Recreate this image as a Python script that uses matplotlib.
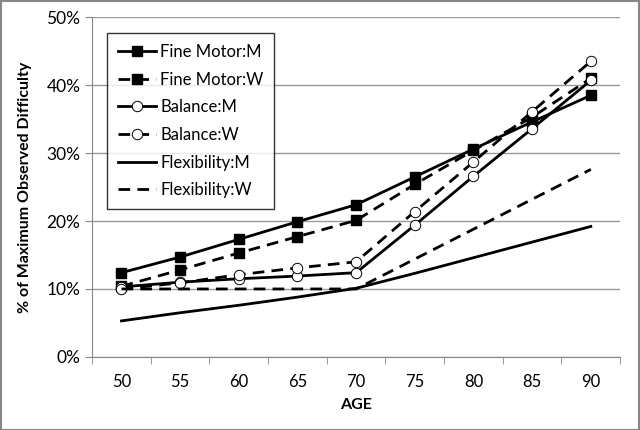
import matplotlib
matplotlib.use("Agg")
import matplotlib.pyplot as plt
from matplotlib.patches import Rectangle

plt.rcParams["font.family"] = ["Lato", "DejaVu Sans"]

ages = [50, 55, 60, 65, 70, 75, 80, 85, 90]
fine_motor_m = [12.4, 14.7, 17.3, 19.9, 22.4, 26.5, 30.6, 34.6, 38.5]
fine_motor_w = [10.4, 12.8, 15.3, 17.7, 20.1, 25.4, 30.4, 35.3, 41.0]
balance_m = [10.3, 11.0, 11.5, 11.9, 12.4, 19.4, 26.6, 33.6, 40.7]
balance_w = [10.0, 10.9, 12.1, 13.1, 14.0, 21.4, 28.7, 36.1, 43.5]
flexibility_m = [5.3, 6.5, 7.6, 8.8, 10.1, 12.3, 14.6, 16.9, 19.2]
flexibility_w = [10.0, 10.0, 10.0, 10.0, 10.0, 14.4, 18.8, 23.2, 27.6]

fig = plt.figure(figsize=(6.4, 4.3), dpi=100)
ax = fig.add_axes([0.144, 0.170, 0.825, 0.790])

lw = 2.0
dash = (0, (4.2, 2.6))
ax.plot(ages, fine_motor_m, color="black", lw=lw, marker="s", ms=7.5,
        label="Fine Motor:M")
ax.plot(ages, fine_motor_w, color="black", lw=lw, ls=dash, marker="s", ms=7.5,
        label="Fine Motor:W")
ax.plot(ages, balance_m, color="black", lw=lw, marker="o", ms=7.5,
        mfc="white", mew=0.7, label="Balance:M")
ax.plot(ages, balance_w, color="black", lw=lw, ls=dash, marker="o", ms=7.5,
        mfc="white", mew=0.7, label="Balance:W")
ax.plot(ages, flexibility_m, color="black", lw=lw, label="Flexibility:M")
ax.plot(ages, flexibility_w, color="black", lw=lw, ls=dash, label="Flexibility:W")

ax.set_xlim(47.5, 92.5)
ax.set_ylim(0, 50)
ax.set_xticks(ages)
ax.set_xticks([47.5 + 5 * i for i in range(10)], minor=True)
ax.tick_params(axis="x", which="major", length=0, pad=12, labelsize=12)
ax.tick_params(axis="x", which="minor", length=5, color="#888888")
ax.set_yticks(range(0, 51, 10))
ax.set_yticklabels([f"{v}%" for v in range(0, 51, 10)])
ax.tick_params(axis="y", length=5, color="#888888", labelsize=12.5)

ax.grid(axis="y", color="#999999", lw=1)
ax.set_axisbelow(True)
for side in ["top", "right"]:
    ax.spines[side].set_visible(False)
for side in ["left", "bottom"]:
    ax.spines[side].set_color("#888888")

ax.set_xlabel("AGE", fontweight="bold", fontsize=11.5, labelpad=6)
ax.set_ylabel("% of Maximum Observed Difficulty", fontweight="bold",
              fontsize=11.5, labelpad=10)

leg = ax.legend(loc="upper left", bbox_to_anchor=(0.028, 0.953), borderaxespad=0,
                fontsize=12, frameon=True, fancybox=False, edgecolor="black",
                handlelength=2.3, labelspacing=0.7, borderpad=0.65,
                handletextpad=0.25)
leg.get_frame().set_linewidth(1.0)

fig.patches.append(Rectangle((0.001, 0.001), 0.997, 0.996, transform=fig.transFigure,
                             fill=False, edgecolor="#888888", lw=1.5))

fig.savefig("out.png", dpi=100)
